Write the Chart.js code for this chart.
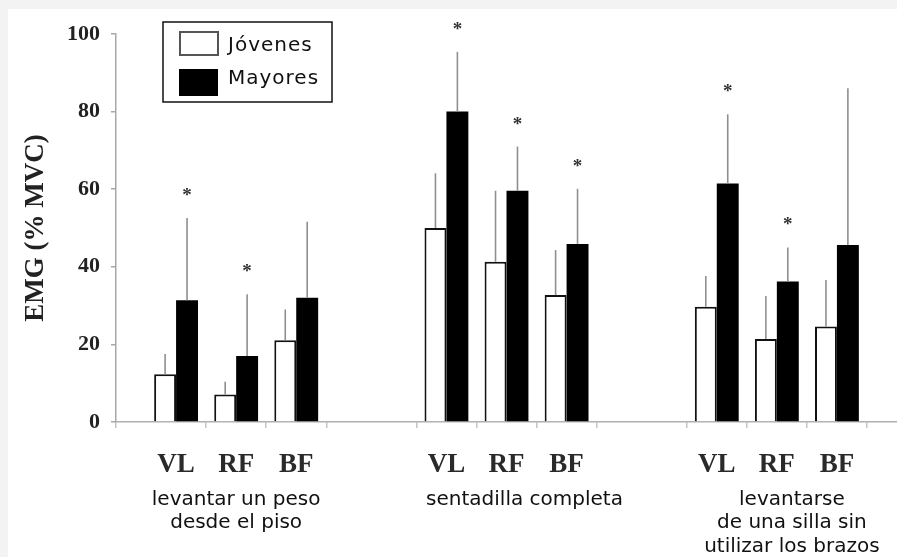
<!DOCTYPE html>
<html lang="es">

<head>
    <meta charset="UTF-8">
    <title>EMG jovenes vs mayores</title>
    <script src="https://cdn.jsdelivr.net/npm/chart.js"></script>
    <style>
        html, body { margin: 0; padding: 0; background: #f3f3f3; width: 897px; height: 557px; overflow: hidden; }
        #wrap { position: absolute; left: 8px; top: 9px; width: 889px; height: 548px; background: #fff; }
    </style>
</head>

<body>
    <div id="wrap"><canvas id="myChart" width="889" height="548"></canvas></div>

    <script>
        // data
        const groups = [
            ['levantar un peso', 'desde el piso'],
            ['sentadilla completa'],
            ['levantarse', 'de una silla sin', 'utilizar los brazos']
        ];
        const muscles = ['VL', 'RF', 'BF'];
        const yTicks = [0, 20, 40, 60, 80, 100];

        const jovenes = [12.3, 7.1, 21.1, 50.0, 41.3, 32.7, 29.7, 21.4, 24.6];
        const jovenesSD = [5.2, 3.3, 7.9, 14.1, 18.3, 11.6, 7.9, 11.1, 12.0];
        const mayores = [31.4, 17.0, 32.0, 80.0, 59.6, 45.9, 61.5, 36.2, 45.6];
        const mayoresSD = [21.2, 15.9, 19.6, 15.4, 11.4, 14.2, 17.8, 8.8, 40.4];
        const significant = [true, true, false, true, true, true, true, true, false];

        // layout of the x axis (in slot units)
        const groupStart = [1, 5.5, 10];
        const groupLabelAt = [2, 6.8, 11.25];
        const xMax = 13;

        const xPos = [];
        groupStart.forEach(g => muscles.forEach((m, i) => xPos.push(g + i)));
        const boundaryTicks = [0];
        groupStart.forEach((g, gi) => {
            for (let i = 0; i <= muscles.length; i++) {
                if (gi === 0 && i === 0) continue;
                boundaryTicks.push(g - 0.5 + i);
            }
        });

        const toPoints = arr => arr.map((v, i) => ({ x: xPos[i], y: v }));

        const errorBars = {
            id: 'errorBars',
            afterDatasetsDraw(chart) {
                const ctx = chart.ctx;
                const y = chart.scales.y;
                ctx.save();
                chart.data.datasets.forEach((ds, di) => {
                    const meta = chart.getDatasetMeta(di);
                    meta.data.forEach((bar, i) => {
                        const top = y.getPixelForValue(ds.data[i].y + ds.sd[i]);
                        ctx.strokeStyle = '#8f8f8f';
                        ctx.lineWidth = 1.6;
                        ctx.beginPath();
                        ctx.moveTo(bar.x, bar.y);
                        ctx.lineTo(bar.x, top);
                        ctx.stroke();
                        if (ds.stars && ds.stars[i]) {
                            ctx.fillStyle = '#333';
                            ctx.font = 'bold 19px "Liberation Serif"';
                            ctx.textAlign = 'center';
                            ctx.textBaseline = 'alphabetic';
                            ctx.fillText('*', bar.x, top - 27 + 10);
                        }
                    });
                });
                ctx.restore();
            }
        };

        const boxLegend = {
            id: 'boxLegend',
            afterDraw(chart) {
                const ctx = chart.ctx;
                const a = chart.chartArea;
                const x0 = a.left + 47, y0 = a.top - 12;
                ctx.save();
                ctx.fillStyle = '#fff';
                ctx.fillRect(x0, y0, 169, 80);
                ctx.strokeStyle = '#111';
                ctx.lineWidth = 1.5;
                ctx.strokeRect(x0, y0, 169, 80);

                ctx.strokeStyle = '#555';
                ctx.lineWidth = 2;
                ctx.strokeRect(x0 + 17, y0 + 10, 38, 23);
                ctx.fillStyle = '#000';
                ctx.fillRect(x0 + 16, y0 + 47, 39, 27);

                ctx.fillStyle = '#111';
                ctx.font = '20px "DejaVu Sans"';
                ctx.letterSpacing = '1px';
                ctx.textAlign = 'left';
                ctx.textBaseline = 'middle';
                ctx.fillText(chart.data.datasets[0].label, x0 + 65, y0 + 24);
                ctx.fillText(chart.data.datasets[1].label, x0 + 65, y0 + 57);
                ctx.restore();
            }
        };

        const setTicks = vals => scale => { scale.ticks = vals.map(v => ({ value: v })); };

        const config = {
            type: 'bar',
            data: {
                datasets: [{
                    label: 'Jóvenes',
                    data: toPoints(jovenes),
                    sd: jovenesSD,
                    backgroundColor: '#fff',
                    borderColor: '#111',
                    borderWidth: 2,
                    borderSkipped: 'start'
                }, {
                    label: 'Mayores',
                    data: toPoints(mayores),
                    sd: mayoresSD,
                    stars: significant,
                    backgroundColor: '#000',
                    borderColor: '#000',
                    borderWidth: 0
                }]
            },
            options: {
                responsive: false,
                animation: false,
                layout: { padding: { top: 25, right: 0, left: 0, bottom: 0 } },
                datasets: { bar: { categoryPercentage: 0.73, barPercentage: 1.0 } },
                plugins: { legend: { display: false }, tooltip: { enabled: false } },
                scales: {
                    x: {
                        type: 'linear', position: 'bottom', min: 0, max: xMax, offset: false,
                        afterBuildTicks: setTicks(boundaryTicks),
                        afterFit: s => { s.height = 6; },
                        ticks: { display: false },
                        grid: { drawOnChartArea: false, tickLength: 6, color: '#c4c4c4', lineWidth: 1.5, offset: false },
                        border: { color: '#b0b0b0', width: 1.5 }
                    },
                    x2: {
                        type: 'linear', position: 'bottom', min: 0, max: xMax, offset: false,
                        afterBuildTicks: setTicks(xPos),
                        afterFit: s => { s.height = 52; },
                        grid: { display: false },
                        border: { display: false },
                        ticks: {
                            autoSkip: false, maxRotation: 0, padding: 13, color: '#2a2a2a',
                            font: { family: '"Liberation Serif"', size: 27, weight: 'bold' },
                            callback: (v, i) => muscles[i % muscles.length]
                        }
                    },
                    x3: {
                        type: 'linear', position: 'bottom', min: 0, max: xMax, offset: false,
                        afterBuildTicks: setTicks(groupLabelAt),
                        afterFit: s => { s.height = 77; },
                        grid: { display: false },
                        border: { display: false },
                        ticks: {
                            autoSkip: false, maxRotation: 0, padding: 0, color: '#111',
                            font: { family: '"DejaVu Sans"', size: 20, lineHeight: 1.175 },
                            callback: (v, i) => groups[i]
                        }
                    },
                    y: {
                        min: 0, max: 100,
                        afterBuildTicks: setTicks(yTicks),
                        afterFit: s => { s.width = 108; },
                        grid: { drawOnChartArea: false, tickLength: 5, color: '#a8a8a8', lineWidth: 1.5 },
                        border: { color: '#a8a8a8', width: 1.5 },
                        ticks: {
                            padding: 11, color: '#222',
                            font: { family: '"Liberation Serif"', size: 22, weight: 'bold' }
                        },
                        title: {
                            display: true, text: 'EMG (% MVC)', color: '#222',
                            padding: { top: 12, bottom: 0 },
                            font: { family: '"Liberation Serif"', size: 27, weight: 'bold' }
                        }
                    }
                }
            },
            plugins: [errorBars, boxLegend]
        };

        const myChart = new Chart(document.getElementById('myChart'), config);
    </script>
</body>

</html>
